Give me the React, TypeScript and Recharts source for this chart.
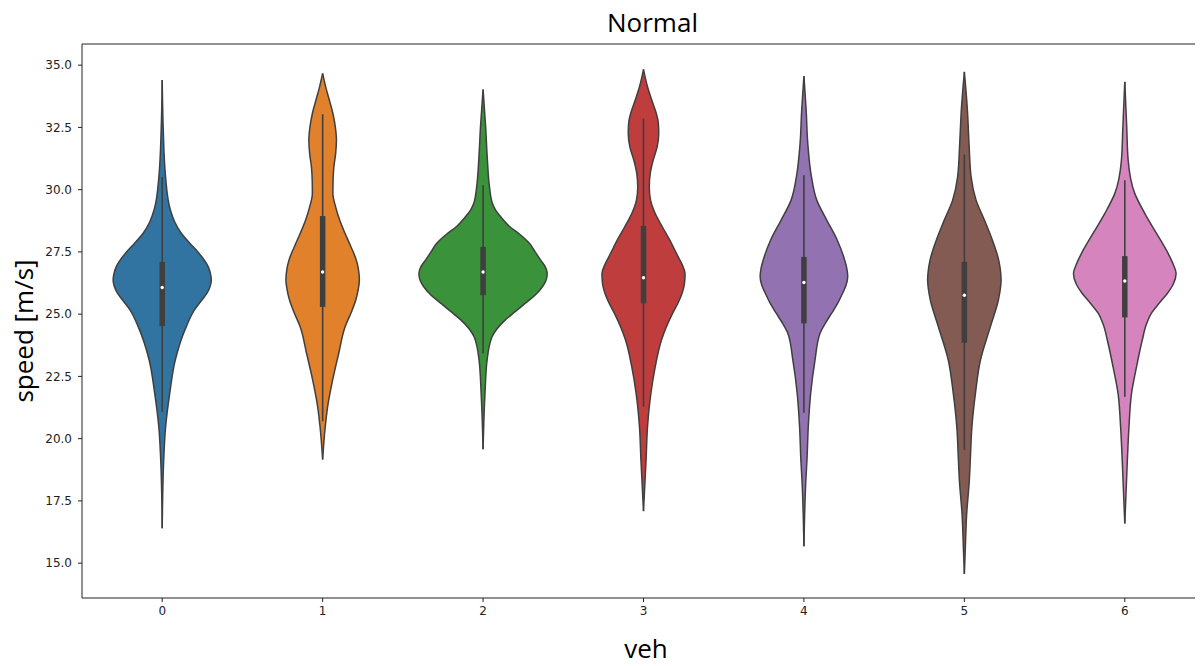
import { ComposedChart, Area, XAxis, YAxis, ReferenceLine, ReferenceDot } from "recharts"

// vehicle ids on the x axis
const categories = ["0", "1", "2", "3", "4", "5", "6"]
const colors = ["#3274a1", "#e1812c", "#3a923a", "#c03d3e", "#9372b2", "#845b53", "#d684bd"]

// violin outlines: [speed, half width in category units]
const violin0 = [[16.4, 0], [19.1, 0.009], [20.46, 0.021], [21.83, 0.047], [23.15, 0.081], [24.5, 0.15], [25.16, 0.2], [25.55, 0.245], [25.85, 0.28], [26.1, 0.298], [26.37, 0.306], [26.65, 0.3], [26.9, 0.287], [27.45, 0.229], [27.85, 0.172], [28.25, 0.119], [28.7, 0.078], [29.2, 0.05], [30.5, 0.021], [32.5, 0.006], [34.4, 0]]
const violin1 = [[19.16, 0], [20.47, 0.016], [21.28, 0.031], [22.35, 0.062], [23.42, 0.1], [24.49, 0.14], [25.1, 0.18], [25.56, 0.206], [26.0, 0.222], [26.37, 0.229], [26.8, 0.223], [27.17, 0.21], [27.7, 0.177], [28.24, 0.14], [28.78, 0.106], [29.31, 0.081], [29.85, 0.064], [30.38, 0.065], [30.92, 0.07], [31.45, 0.081], [31.99, 0.086], [32.52, 0.079], [33.06, 0.064], [33.59, 0.042], [34.13, 0.019], [34.67, 0]]
const violin2 = [[19.57, 0], [21.82, 0.012], [23.15, 0.025], [24.09, 0.056], [24.76, 0.137], [25.1, 0.2], [25.43, 0.262], [25.8, 0.33], [26.1, 0.37], [26.35, 0.392], [26.63, 0.4], [26.9, 0.388], [27.17, 0.359], [27.5, 0.325], [27.84, 0.29], [28.2, 0.23], [28.51, 0.167], [28.91, 0.11], [29.18, 0.078], [29.45, 0.058], [30.11, 0.04], [31.18, 0.027], [32.52, 0.016], [34.02, 0]]
const violin3 = [[17.09, 0], [19.14, 0.016], [20.47, 0.025], [21.82, 0.046], [22.88, 0.073], [23.96, 0.112], [25.03, 0.181], [25.45, 0.215], [25.83, 0.24], [26.2, 0.255], [26.63, 0.259], [27.0, 0.24], [27.44, 0.205], [27.97, 0.164], [28.51, 0.117], [29.04, 0.073], [29.58, 0.044], [30.11, 0.036], [30.65, 0.042], [31.18, 0.06], [31.72, 0.085], [32.26, 0.095], [32.7, 0.092], [33.06, 0.08], [33.59, 0.052], [34.13, 0.025], [34.83, 0]]
const violin4 = [[15.68, 0], [18.33, 0.012], [19.14, 0.019], [20.47, 0.027], [21.82, 0.042], [23.15, 0.069], [24.22, 0.1], [24.65, 0.135], [25.03, 0.172], [25.43, 0.21], [25.83, 0.24], [26.15, 0.262], [26.5, 0.273], [26.85, 0.267], [27.17, 0.254], [27.97, 0.208], [28.78, 0.142], [29.58, 0.08], [30.51, 0.047], [31.85, 0.024], [33.19, 0.014], [34.56, 0]]
const violin5 = [[14.56, 0], [15.6, 0.006], [16.94, 0.014], [18.33, 0.031], [19.14, 0.037], [20.47, 0.047], [21.82, 0.069], [23.15, 0.1], [24.49, 0.162], [25.56, 0.212], [26.0, 0.224], [26.37, 0.229], [26.8, 0.224], [27.17, 0.214], [27.97, 0.175], [28.78, 0.125], [29.58, 0.073], [30.51, 0.042], [31.85, 0.029], [33.19, 0.019], [34.73, 0]]
const violin6 = [[16.59, 0], [19.14, 0.016], [20.47, 0.026], [21.82, 0.042], [22.88, 0.073], [23.96, 0.109], [24.6, 0.135], [25.03, 0.165], [25.43, 0.213], [25.83, 0.265], [26.2, 0.302], [26.63, 0.32], [27.0, 0.302], [27.44, 0.27], [28.24, 0.198], [29.04, 0.125], [29.85, 0.062], [31.18, 0.021], [32.52, 0.012], [34.33, 0]]
const violins = [violin0, violin1, violin2, violin3, violin4, violin5, violin6]

// inner box plot
const q1 = [24.52, 25.29, 25.76, 25.43, 24.63, 23.85, 24.87]
const q3 = [27.1, 28.94, 27.7, 28.55, 27.3, 27.1, 27.33]
const median = [26.07, 26.69, 26.69, 26.46, 26.27, 25.76, 26.33]
const whiskerLow = [21.08, 20.7, 23.42, 21.28, 21.04, 19.54, 21.68]
const whiskerHigh = [30.51, 33.03, 30.18, 32.86, 30.58, 31.41, 30.38]

const yTicks = [15, 17.5, 20, 22.5, 25, 27.5, 30, 32.5, 35]
const xTicks = [0, 1, 2, 3, 4, 5, 6]

const Y_MIN = 13.6
const Y_MAX = 35.85

// each violin gets its own rows: speed -> [left edge, right edge]
const violinRows = violins.map((profile, i) =>
  profile.map(([speed, half]) => ({ speed, range: [i - half, i + half] }))
)

const edge = "#3f3f3f"
const tickStyle = { fontSize: 12, fill: "#222", fontFamily: "DejaVu Sans" }
const bigText = { fontFamily: "Open Sans", fontSize: 26, color: "#000", whiteSpace: "nowrap" as const }

export default function App() {
  return (
    <div style={{ position: "relative", width: 1203, height: 666, margin: -8, overflow: "hidden", background: "#fff" }}>
      <ComposedChart
        width={1210}
        height={666}
        layout="vertical"
        margin={{ top: 44, right: 5, bottom: 0, left: 0 }}
      >
        <XAxis
          type="number"
          domain={[-0.5, 6.5]}
          ticks={xTicks}
          tickFormatter={(v) => categories[v]}
          allowDataOverflow
          height={68}
          stroke="#222"
          tick={tickStyle}
          tickSize={4}
          tickMargin={4}
        />
        <YAxis
          type="number"
          dataKey="speed"
          domain={[Y_MIN, Y_MAX]}
          reversed
          ticks={yTicks}
          tickFormatter={(v) => v.toFixed(1)}
          allowDataOverflow
          width={82}
          stroke="#222"
          tick={tickStyle}
          tickSize={4}
          tickMargin={6}
        />
        <ReferenceLine y={Y_MAX} stroke="#222" strokeWidth={1} ifOverflow="visible" />
        {violinRows.map((rows, i) => (
          <Area
            key={"v" + i}
            data={rows}
            dataKey="range"
            type="monotone"
            fill={colors[i]}
            fillOpacity={1}
            stroke={edge}
            strokeWidth={1.5}
            isAnimationActive={false}
            activeDot={false}
            dot={false}
          />
        ))}
        {categories.map((_, i) => (
          <ReferenceLine
            key={"w" + i}
            segment={[{ x: i, y: whiskerLow[i] }, { x: i, y: whiskerHigh[i] }]}
            stroke={edge}
            strokeWidth={1.6}
          />
        ))}
        {categories.map((_, i) => (
          <ReferenceLine
            key={"b" + i}
            segment={[{ x: i, y: q1[i] }, { x: i, y: q3[i] }]}
            stroke={edge}
            strokeWidth={5.5}
          />
        ))}
        {categories.map((_, i) => (
          <ReferenceDot key={"m" + i} x={i} y={median[i]} r={1.7} fill="#fff" stroke="none" />
        ))}
      </ComposedChart>
      <div style={{ ...bigText, position: "absolute", left: 0, width: 1305, top: 4, textAlign: "center" }}>Normal</div>
      <div
        style={{
          ...bigText,
          position: "absolute",
          left: 23,
          top: 331,
          transform: "translate(-50%, -50%) rotate(-90deg)",
        }}
      >
        speed [m/s]
      </div>
      <div style={{ ...bigText, position: "absolute", left: 646, top: 648, transform: "translate(-50%, -50%)" }}>veh</div>
    </div>
  )
}
